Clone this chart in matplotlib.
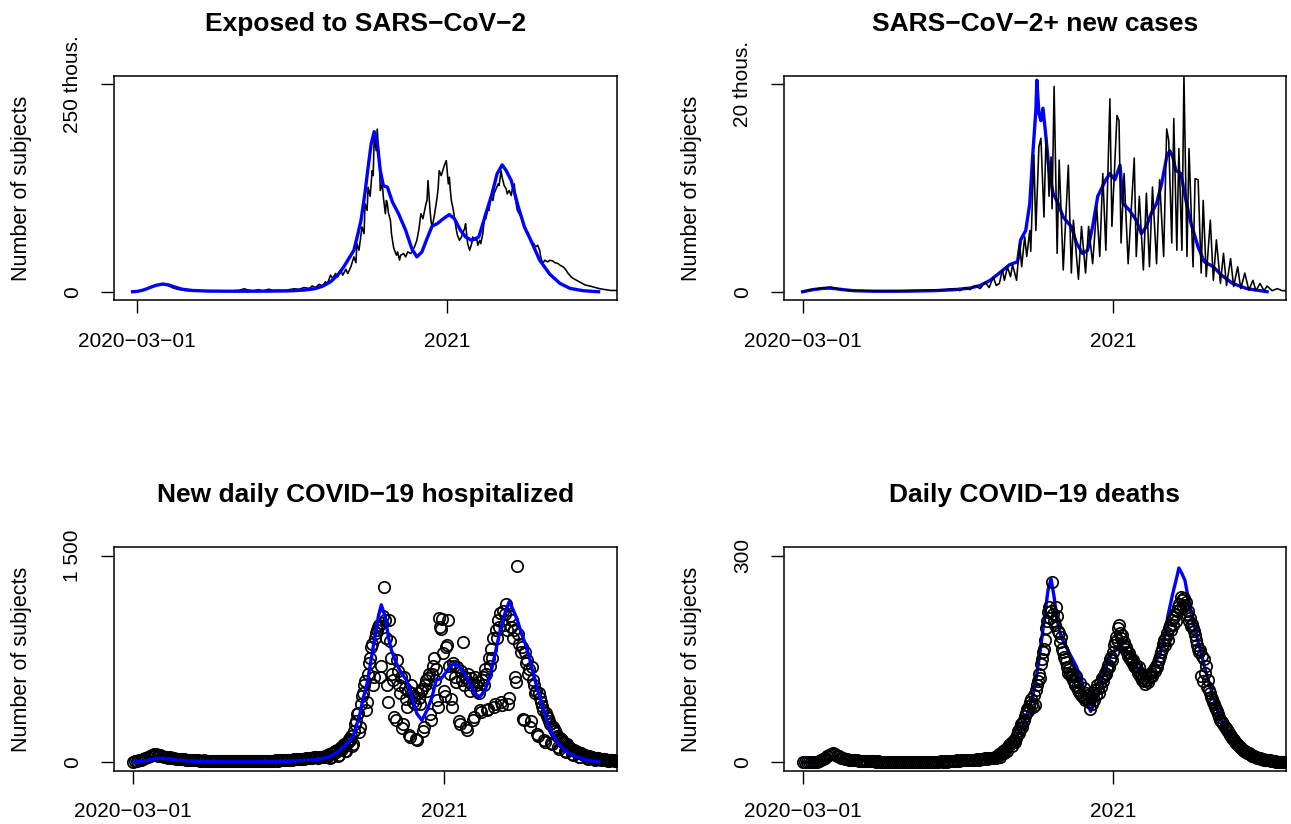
import matplotlib
matplotlib.use("Agg")
import matplotlib.pyplot as plt
import numpy as np
import pandas as pd

plt.rcParams['font.family'] = ['Liberation Sans', 'DejaVu Sans']

start = pd.Timestamp('2020-03-01')

# ---- Exposed to SARS-CoV-2 (thousands) ----
exposed_model_days = [-4, 0, 5, 10, 15, 20, 26, 32, 38, 45, 55, 70, 90, 110, 130, 150, 165, 175, 183,
                      191, 198, 204, 209, 214, 218, 221, 225, 228, 231, 234, 237, 240, 243, 247, 252,
                      258, 265, 271, 276, 281, 286, 291, 296, 302, 308, 313, 319, 324, 330, 337, 343,
                      350, 355, 360, 364, 369, 376, 382, 389, 397, 407, 417, 427, 440, 455]
exposed_model = [0, 0.3, 1.5, 3.5, 6, 8, 9.3, 8, 5.5, 3, 1.5, 0.8, 0.6, 0.6, 0.7, 1, 2, 3.5, 6.5,
                 12, 20, 30, 40, 50, 70, 86, 120, 150, 178, 193, 179, 146, 128, 126, 108,
                 94, 74, 52, 42, 48, 64, 79, 82, 88, 93, 88, 74, 66, 62, 66, 90,
                 118, 142, 153, 146, 134, 102, 78, 60, 38, 21, 10, 4, 1.2, 0]

exposed_obs_days = [-4, 0, 5, 10, 15, 20, 25, 30, 35, 40,
                    48, 60, 75, 90, 100, 106, 110, 115, 120, 124,
                    130, 135, 140, 145, 150, 155, 160, 165, 170, 173,
                    176, 180, 183, 186, 188, 191, 193, 196, 198, 201,
                    203, 206, 208, 211, 214, 216, 217, 219, 222, 224,
                    225, 227, 228, 230, 232, 233, 234, 236, 237, 238,
                    239, 240, 242, 243, 245, 246, 247, 248, 250, 251,
                    253, 254, 256, 257, 259, 260, 263, 265, 267, 270,
                    272, 274, 276, 278, 280, 282, 285, 286, 287, 289,
                    290, 291, 293, 296, 297, 298, 300, 302, 303, 305,
                    307, 308, 309, 310, 312, 313, 315, 316, 318, 320,
                    321, 323, 324, 325, 326, 328, 330, 331, 333, 335,
                    336, 338, 339, 341, 343, 344, 346, 347, 349, 351,
                    352, 354, 356, 357, 359, 360, 362, 364, 365, 367,
                    369, 370, 372, 373, 375, 377, 379, 381, 384, 386,
                    388, 391, 393, 395, 397, 398, 400, 402, 405, 407,
                    410, 412, 415, 417, 420, 421, 423, 425, 428, 430,
                    433, 436, 439, 442, 446, 449, 452, 455, 459, 462,
                    467, 475]
exposed_obs = [0, 0.5, 1.5, 3.5, 6, 8, 9, 8, 5, 3,
               1.5, 1, 0.8, 0.8, 1.5, 3.5, 2, 1, 2.5, 1,
               3, 1.5, 2, 1.5, 2.5, 3.5, 3, 5, 4, 7,
               5, 9, 7, 12, 10, 20, 16, 22, 18, 26,
               20, 27, 22, 30, 42, 35, 58, 50, 78, 70,
               106, 98, 126, 115, 146, 140, 186, 170, 196, 175,
               162, 122, 130, 114, 94, 110, 106, 95, 86, 70,
               54, 50, 44, 48, 38, 44, 46, 42, 48, 46,
               50, 55, 62, 75, 94, 88, 106, 110, 134, 98,
               85, 78, 90, 114, 125, 146, 140, 148, 152, 158,
               130, 138, 122, 110, 98, 90, 74, 68, 62, 66,
               70, 76, 82, 70, 58, 50, 58, 66, 62, 64,
               56, 62, 58, 70, 94, 88, 102, 98, 114, 110,
               118, 124, 130, 128, 146, 138, 128, 124, 118, 122,
               116, 124, 130, 112, 98, 94, 90, 82, 74, 70,
               62, 58, 54, 56, 50, 42, 34, 38, 36, 38,
               37, 35, 34, 32, 30, 29, 26, 22, 18, 16,
               14, 12, 10, 8, 7, 6, 5, 4, 3, 2.5,
               1.5, 1.5]

# ---- SARS-CoV-2+ new cases (thousands) ----
cases_model_days = [0, 5, 10, 18, 25, 32, 40, 50, 70, 100, 130, 150, 165, 175, 185,
                    194, 204, 212, 215, 220, 224, 227, 230, 231, 233, 235, 237, 240, 243, 247,
                    252, 257, 262, 265, 270, 276, 281, 286, 291, 294, 299, 303, 308, 313, 316,
                    322, 329, 334, 339, 344, 349, 354, 359, 362, 365, 368, 373, 378, 383, 390,
                    396, 405, 413, 424, 438, 458]
cases_model = [0, 0.1, 0.2, 0.3, 0.35, 0.3, 0.2, 0.1, 0.05, 0.05, 0.1, 0.2, 0.35, 0.6, 1.1,
               1.8, 2.6, 2.9, 5.0, 5.9, 8.5, 13.3, 17.5, 20.4, 17.2, 16.5, 17.7, 14.9, 11.7, 9.5,
               8.5, 7.2, 6.6, 6.3, 4.7, 3.7, 4.0, 6.3, 9.2, 9.8, 10.8, 11.4, 10.8, 12.2, 8.5,
               7.9, 6.9, 5.6, 6.3, 7.6, 8.5, 10.4, 13.0, 13.6, 13.0, 11.7, 11.4, 8.8, 6.6, 4.3,
               2.9, 2.4, 1.6, 0.8, 0.3, 0]

cases_obs_days = [0, 4, 8, 12, 16, 20, 24, 28, 32, 36,
                  40, 50, 60, 80, 100, 120, 140, 150, 155, 160,
                  165, 170, 175, 180, 184, 188, 191, 194, 197, 199,
                  202, 205, 207, 211, 214, 216, 219, 221, 224, 225,
                  228, 230, 233, 235, 238, 240, 242, 243, 245, 246,
                  248, 251, 253, 257, 262, 265, 267, 272, 275, 279,
                  282, 286, 290, 293, 296, 299, 303, 305, 310, 312,
                  314, 317, 321, 327, 329, 332, 336, 339, 342, 345,
                  349, 352, 356, 359, 361, 364, 366, 369, 371, 374,
                  376, 379, 381, 385, 387, 390, 393, 395, 398, 402,
                  405, 408, 412, 415, 418, 422, 425, 429, 432, 436,
                  440, 444, 447, 451, 455, 458, 463, 468, 473, 477]
cases_obs = [0, 0.1, 0.2, 0.25, 0.3, 0.35, 0.4, 0.45, 0.35, 0.25,
             0.2, 0.1, 0.1, 0.05, 0.1, 0.15, 0.2, 0.3, 0.1, 0.4,
             0.2, 0.6, 0.3, 0.9, 0.4, 1.4, 0.6, 0.8, 2.1, 1.1,
             2.4, 1.45, 2.6, 1.1, 4.7, 2.4, 5.3, 3.4, 5.9, 3.9,
             13.2, 5.9, 14.0, 14.8, 7.2, 14.8, 12.0, 9.2, 13.0, 8.0,
             19.8, 3.7, 12.7, 2.1, 12.2, 1.8, 6.9, 1.2, 6.3, 1.8,
             6.3, 2.7, 8.2, 3.4, 11.4, 4.0, 18.6, 6.3, 17.0, 16.5,
             4.7, 11.4, 2.7, 12.9, 3.4, 9.2, 2.1, 9.5, 2.4, 10.1,
             2.7, 10.8, 3.4, 15.7, 14.6, 4.7, 16.7, 4.0, 13.8, 4.0,
             20.9, 3.4, 13.8, 2.4, 10.9, 10.8, 1.8, 8.8, 1.45, 6.9,
             1.1, 5.0, 0.8, 3.7, 0.6, 3.2, 0.5, 2.4, 0.3, 1.8,
             0.15, 1.1, 0.1, 0.8, 0.1, 0.55, 0.1, 0.3, 0.1, 0.1]

# ---- New daily COVID-19 hospitalized ----
hosp_model_days = [0, 10, 20, 28, 36, 45, 60, 90, 120, 150, 170, 180, 187,
                   193, 200, 207, 212, 216, 219, 223, 226, 230, 233, 236, 239, 241, 244, 248,
                   251, 254, 259, 264, 269, 274, 279, 284, 289, 294, 298, 303, 308, 312, 317,
                   321, 326, 331, 336, 341, 346, 351, 356, 361, 366, 370, 374, 378, 382, 387,
                   392, 397, 404, 410, 418, 426, 436, 449, 458]
hosp_model = [2, 10, 25, 30, 25, 15, 8, 5, 5, 8, 15, 22, 30,
              41, 70, 112, 150, 185, 250, 354, 460, 571, 700, 837, 960, 1054, 1143, 1054,
              909, 813, 716, 644, 596, 475, 354, 306, 378, 475, 596, 608, 656, 704, 716,
              692, 644, 571, 499, 475, 523, 620, 789, 958, 1090, 1167, 1102, 1030, 933, 837,
              692, 547, 378, 233, 137, 77, 41, 12, 5]

# every second day up to day 188, then daily from day 189
hosp_early = [5, 8, 10, 14, 20, 25, 30, 38, 45, 55,
              62, 58, 50, 55, 45, 40, 42, 35, 38, 30,
              32, 28, 25, 27, 22, 24, 20, 18, 20, 16,
              15, 14, 16, 13, 12, 14, 12, 11, 13, 10,
              11, 10, 12, 9, 10, 11, 9, 10, 8, 9,
              10, 8, 9, 10, 8, 9, 7, 9, 8, 10,
              9, 8, 10, 9, 11, 10, 12, 11, 13, 12,
              14, 13, 15, 16, 14, 18, 17, 20, 19, 22,
              24, 22, 26, 28, 25, 30, 32, 29, 34, 36,
              38, 35, 40, 42, 39]
hosp_daily = [45, 50, 38, 55, 60, 30, 40,
              70, 65, 80, 75, 90, 50, 55,
              100, 110, 95, 120, 130, 80, 85,
              140, 150, 170, 160, 190, 120, 130,
              230, 280, 300, 350, 360, 220, 260,
              420, 480, 500, 560, 590, 380, 440,
              640, 720, 760, 840, 860, 560, 620,
              900, 940, 960, 980, 1000, 620, 700,
              1010, 1060, 1271, 1030, 900, 560, 440,
              1030, 880, 760, 640, 600, 330, 306,
              740, 660, 560, 500, 620, 250, 280,
              620, 540, 460, 400, 520, 200, 185,
              560, 500, 440, 480, 420, 173, 161,
              500, 470, 420, 520, 530, 230, 260,
              560, 600, 520, 610, 640, 354, 306,
              640, 700, 760, 600, 680, 450, 402,
              1049, 982, 970, 1040, 790, 520, 480,
              837, 849, 1030, 700, 640, 460, 400,
              720, 700, 620, 580, 690, 300, 282,
              660, 600, 873, 560, 620, 258, 233,
              640, 580, 520, 610, 560, 306, 330,
              620, 560, 520, 580, 500, 380, 366,
              600, 620, 560, 680, 640, 378, 390,
              760, 700, 820, 760, 900, 400, 420,
              958, 900, 1030, 980, 1080, 440, 414,
              1100, 1000, 1078, 1150, 960, 420, 470,
              1060, 980, 1030, 900, 958, 620, 580,
              1428, 934, 860, 800, 840, 318, 306,
              800, 720, 740, 640, 680, 258, 300,
              692, 600, 560, 500, 520, 209, 190,
              500, 470, 440, 410, 380, 161, 150,
              360, 340, 320, 300, 280, 140, 130,
              260, 240, 225, 210, 195, 110, 100,
              180, 170, 160, 150, 140, 80, 75,
              130, 120, 112, 105, 98, 60, 55,
              90, 85, 80, 75, 70, 42, 40,
              65, 60, 56, 52, 48, 30, 28,
              45, 42, 40, 38, 35, 22, 20,
              33, 31, 30, 28, 26, 16, 15,
              25, 24, 22, 21, 20, 12, 11,
              18, 17, 16, 15, 14, 9, 8]

# ---- Daily COVID-19 deaths ----
deaths_model_days = [0, 10, 20, 30, 40, 50, 60, 80, 100, 120, 140, 160, 175, 185,
                     194, 207, 217, 224, 229, 234, 239, 242, 245, 248, 251, 255, 260, 265,
                     270, 275, 280, 284, 288, 293, 298, 303, 308, 313, 318, 323, 328, 332,
                     336, 341, 346, 351, 356, 360, 365, 369, 371, 374, 377, 380, 384, 388,
                     393, 398, 405, 411, 420, 428, 438, 451, 458]
deaths_model = [0, 1, 3, 5, 6, 5, 4, 3, 2.5, 2.5, 3, 4, 5, 7,
                8, 27, 52, 81, 110, 158, 216, 250, 266, 240, 206, 182, 167, 153,
                139, 120, 91, 74, 86, 110, 134, 153, 163, 170, 165, 156, 144, 131,
                124, 131, 144, 153, 172, 211, 245, 269, 282, 274, 264, 240, 211, 187,
                158, 129, 95, 66, 42, 25, 13, 6, 4]

deaths_early = [0, 0, 0, 0, 0, 0, 1, 1, 2, 3,
                5, 7, 9, 11, 12, 13, 12, 10, 9, 7,
                6, 5, 5, 4, 4, 3, 3, 3, 2, 2,
                2, 2, 2, 2, 2, 2, 1, 2, 1, 1,
                1, 1, 1, 1, 1, 1, 1, 1, 1, 1,
                1, 1, 1, 1, 1, 1, 1, 1, 1, 1,
                1, 1, 1, 1, 1, 1, 1, 1, 2, 1,
                2, 1, 2, 2, 2, 2, 3, 2, 3, 3,
                3, 3, 4, 3, 4, 4, 5, 4, 5, 5,
                6, 5, 6, 7, 6]
deaths_daily = [6, 8, 7, 10, 9, 12, 8,
                12, 14, 16, 13, 18, 20, 17,
                22, 25, 28, 24, 30, 33, 29,
                36, 40, 45, 42, 50, 55, 52,
                58, 62, 68, 72, 78, 74, 82,
                88, 92, 85, 80, 98, 83, 105,
                112, 118, 128, 122, 143, 150, 160,
                165, 178, 195, 205, 218, 225, 210,
                220, 261, 215, 205, 200, 225, 212,
                190, 187, 175, 182, 165, 160, 153,
                150, 145, 138, 130, 135, 128, 125,
                128, 120, 118, 112, 125, 110, 105,
                102, 115, 98, 95, 108, 90, 100,
                92, 98, 88, 78, 95, 85, 100,
                90, 105, 98, 112, 108, 100, 115,
                110, 122, 118, 125, 130, 128, 135,
                142, 138, 150, 153, 148, 160, 170,
                175, 182, 178, 195, 199, 188, 180,
                185, 172, 175, 165, 168, 160, 155,
                158, 150, 152, 145, 148, 140, 139,
                142, 135, 130, 138, 125, 128, 120,
                122, 118, 114, 125, 120, 116, 128,
                124, 130, 126, 135, 132, 140, 138,
                145, 150, 155, 160, 165, 172, 178,
                170, 182, 188, 178, 195, 200, 192,
                206, 200, 211, 215, 205, 220, 226,
                230, 222, 240, 235, 225, 238, 228,
                232, 215, 220, 205, 210, 198, 201,
                195, 190, 185, 178, 170, 165, 160,
                163, 125, 155, 118, 150, 129, 140,
                110, 120, 105, 100, 95, 92, 88,
                85, 81, 78, 75, 70, 66, 62,
                60, 58, 55, 52, 50, 47, 45,
                42, 40, 38, 36, 34, 32, 30,
                28, 27, 25, 24, 22, 21, 20,
                18, 17, 16, 15, 14, 13, 13,
                12, 11, 10, 10, 9, 8, 8,
                7, 7, 6, 6, 5, 5, 5,
                4, 4, 4, 3, 3, 3, 3,
                2, 2, 2, 2, 2, 1, 1,
                1, 1, 1, 1, 1, 1, 1]

point_days = np.concatenate([np.arange(0, 189, 2), np.arange(189, 476)])


def to_dates(days):
    return start + pd.to_timedelta(np.asarray(days, dtype=float), unit='D')


fig = plt.figure(figsize=(12.91, 8.24), dpi=100)

ax_exp = fig.add_axes([0.0883, 0.6359, 0.3899, 0.2718])
ax_cas = fig.add_axes([0.6073, 0.6359, 0.3888, 0.2718])
ax_hos = fig.add_axes([0.0883, 0.0647, 0.3899, 0.2711])
ax_dea = fig.add_axes([0.6073, 0.0647, 0.3888, 0.2711])

blue_kw = dict(color='#0000ff', lw=2.4, solid_joinstyle='round')
black_kw = dict(color='black', lw=1.15)
pt_kw = dict(ls='none', marker='o', mfc='none', mec='black', ms=8.2, mew=1.25)

# exposed
ax_exp.plot(to_dates(exposed_obs_days), exposed_obs, **black_kw)
ax_exp.plot(to_dates(exposed_model_days), exposed_model, **blue_kw)

# cases
ax_cas.plot(to_dates(cases_model_days), cases_model, **blue_kw)
ax_cas.plot(to_dates(cases_obs_days), cases_obs, **black_kw)

# hospitalized
ax_hos.plot(to_dates(point_days), hosp_early + hosp_daily, **pt_kw)
ax_hos.plot(to_dates(hosp_model_days), hosp_model, **blue_kw)

# deaths
ax_dea.plot(to_dates(deaths_model_days), deaths_model, **blue_kw)
ax_dea.plot(to_dates(point_days), deaths_early + deaths_daily, **pt_kw)


def style(ax, title, top, top_label, xlo, xhi):
    ax.set_xlim(start + pd.Timedelta(days=xlo), start + pd.Timedelta(days=xhi))
    ax.set_ylim(-0.04 * top, 1.04 * top)
    ax.set_xticks([start, pd.Timestamp('2021-01-01')])
    ax.set_xticklabels(['2020\u221203\u221201', '2021'])
    ax.set_yticks([0, top])
    ax.set_yticklabels(['0', top_label])
    ax.tick_params(direction='out', length=9.4, width=1.0, pad=13.5, labelsize=15)
    for lab in ax.get_yticklabels():
        lab.set_rotation(90)
        lab.set_va('center')
    for s in ax.spines.values():
        s.set_linewidth(1.1)
    ax.set_title(title, fontsize=19, fontweight='bold', pad=32.3)
    ax.annotate('Number of subjects', xy=(0, 0.5), xycoords='axes fraction',
                xytext=(-62.3, 0), textcoords='offset points', rotation=90,
                ha='center', va='baseline', rotation_mode='anchor', fontsize=15.5)


style(ax_exp, 'Exposed to SARS\u2212CoV\u22122', 250, '250 thous.', -22.3, 473.5)
style(ax_cas, 'SARS\u2212CoV\u22122+ new cases', 20, '20 thous.', -18.3, 476.6)
style(ax_hos, 'New daily COVID\u221219 hospitalized', 1500, '1 500', -19.0, 476.3)
style(ax_dea, 'Daily COVID\u221219 deaths', 300, '300', -18.3, 476.6)

fig.savefig('out.png', dpi=100)
